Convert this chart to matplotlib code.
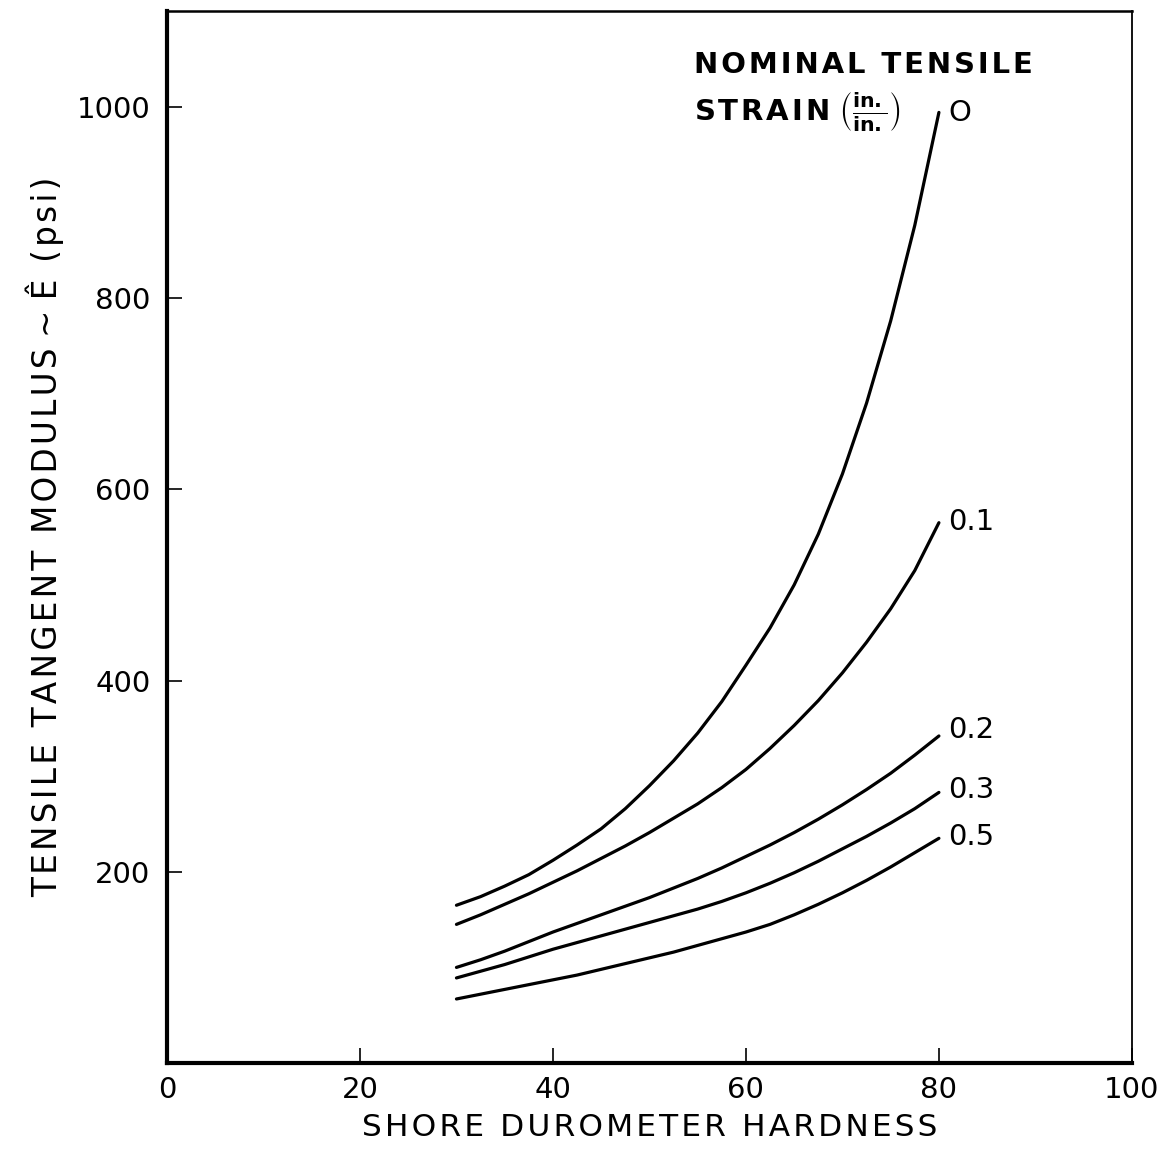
import matplotlib.pyplot as plt

# shore durometer hardness (x) and tensile tangent modulus (psi)
hardness = [30, 32.5, 35, 37.5, 40, 42.5, 45, 47.5, 50, 52.5, 55,
            57.5, 60, 62.5, 65, 67.5, 70, 72.5, 75, 77.5, 80]
e_00 = [165, 174, 185, 197, 212, 228, 245, 266, 290, 316, 345,
        378, 416, 455, 500, 553, 616, 690, 776, 876, 994]
e_01 = [145, 155, 166, 177, 189, 201, 214, 227, 241, 256, 271,
        288, 307, 329, 353, 379, 408, 440, 475, 515, 565]
e_02 = [100, 108, 117, 127, 137, 146, 155, 164, 173, 183, 193,
        204, 216, 228, 241, 255, 270, 286, 303, 322, 342]
e_03 = [89, 96, 103, 111, 119, 126, 133, 140, 147, 154, 161,
        169, 178, 188, 199, 211, 224, 237, 251, 266, 283]
e_05 = [67, 72, 77, 82, 87, 92, 98, 104, 110, 116, 123,
        130, 137, 145, 155, 166, 178, 191, 205, 220, 235]

strain_labels = ["O", "0.1", "0.2", "0.3", "0.5"]
label_y = [993, 566, 348, 286, 236]

plt.rcParams['font.family'] = 'DejaVu Sans'


def spaced(s):
    # the lettering on the original is widely spaced
    return '\u200a'.join(s)


fig = plt.figure(figsize=(11.62, 11.49), dpi=100)
ax = fig.add_axes([0.1437, 0.0748, 0.8304, 0.9156])

for e in [e_00, e_01, e_02, e_03, e_05]:
    ax.plot(hardness, e, color='black', lw=2.3, solid_capstyle='round')

for lab, y in zip(strain_labels, label_y):
    ax.text(81.0, y, lab, fontsize=21, ha='left', va='center')

ax.text(54.6, 1044, spaced("NOMINAL TENSILE"), fontsize=21, fontweight='bold', va='center')
ax.text(54.6, 994, spaced("STRAIN") + r" $\left(\frac{\mathbf{in.}}{\mathbf{in.}}\right)$",
        fontsize=21, fontweight='bold', va='center')

ax.set_xlim(0, 100)
ax.set_ylim(0, 1100)
ax.set_xticks([0, 20, 40, 60, 80, 100])
ax.set_yticks([200, 400, 600, 800, 1000])
ax.tick_params(direction='in', length=11, width=1.2, labelsize=21, pad=9)
ax.tick_params(axis='y', pad=12)

for side, w in [('left', 3), ('bottom', 3), ('top', 1.8), ('right', 1.3)]:
    ax.spines[side].set_linewidth(w)

ax.set_xlabel(spaced("SHORE DUROMETER HARDNESS"), fontsize=22.5, labelpad=7)
ax.set_ylabel(spaced("TENSILE TANGENT MODULUS") + " ~ " + spaced("Ê (psi)"),
              fontsize=23.5, labelpad=9)

fig.savefig("out.png", dpi=100)
